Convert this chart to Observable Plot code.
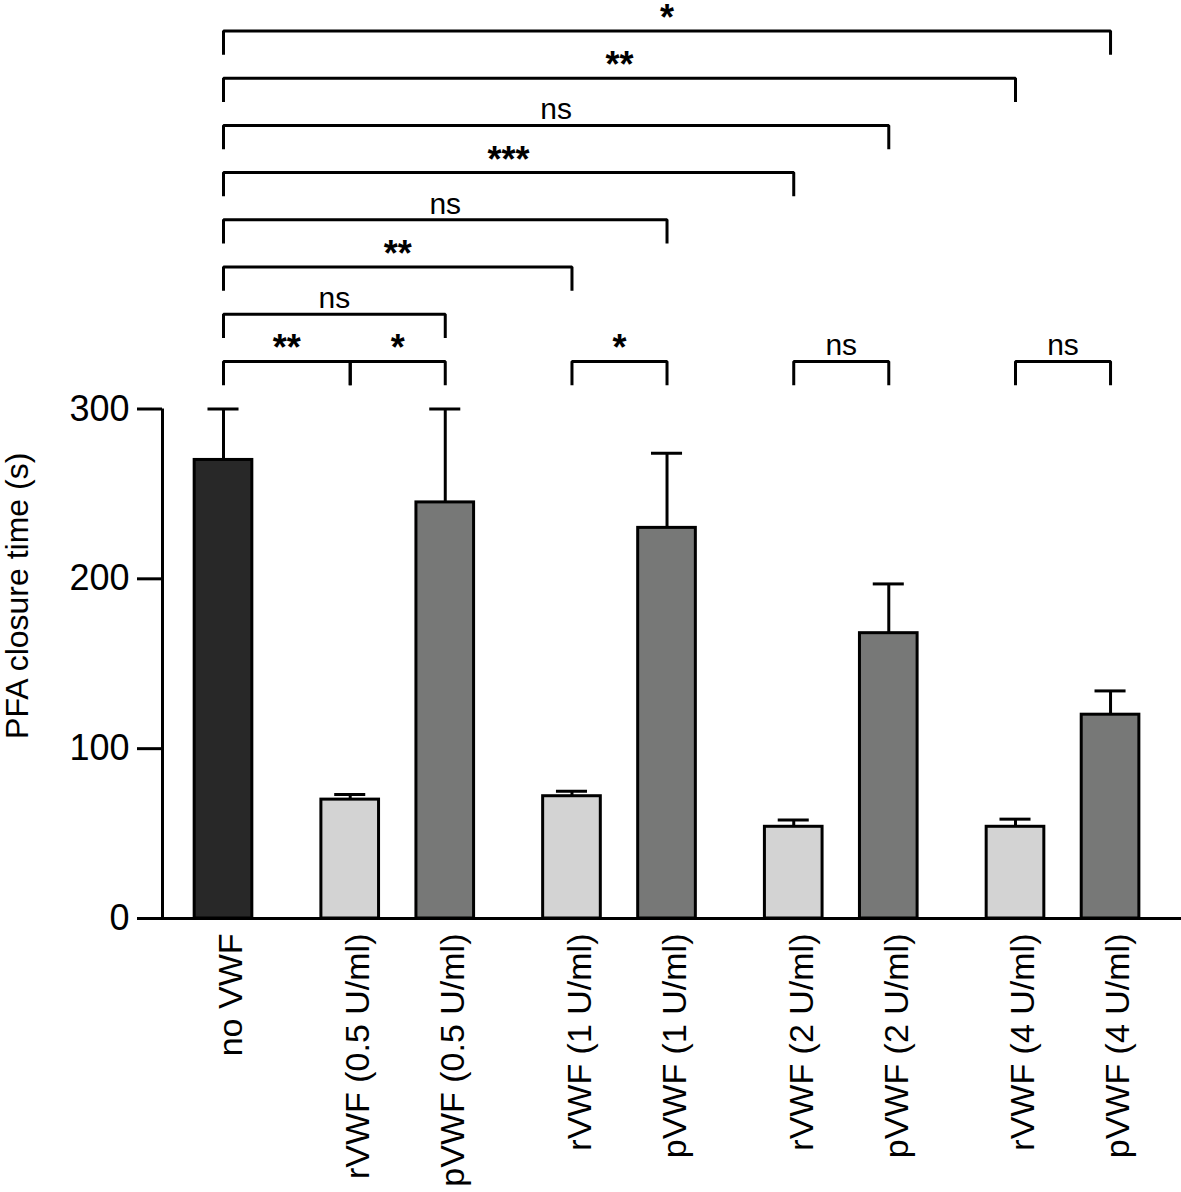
<!DOCTYPE html>
<html>
<head>
<meta charset="utf-8">
<script src="https://cdn.jsdelivr.net/npm/d3@7"></script>
<script src="https://cdn.jsdelivr.net/npm/@observablehq/plot@0.6"></script>
<style>
  html, body { margin: 0; padding: 0; background: #fff; }
  svg { display: block; font-family: "Liberation Sans", Arial, sans-serif; }
</style>
</head>
<body>
<div id="chart"></div>
<script>
// ---- data ----
const categories = ["no VWF", "rVWF (0.5 U/ml)", "pVWF (0.5 U/ml)", "rVWF (1 U/ml)", "pVWF (1 U/ml)",
                    "rVWF (2 U/ml)", "pVWF (2 U/ml)", "rVWF (4 U/ml)", "pVWF (4 U/ml)"];
const types = ["none", "r", "p", "r", "p", "r", "p", "r", "p"];
const means = [270, 70, 245, 72, 230, 54, 168, 54, 120];
const sems  = [30, 3, 55, 3, 44, 4, 29, 4.5, 14];
const yTicks = [0, 100, 200, 300];
const yLabel = "PFA closure time (s)";

// significance brackets: from, to, label, level
const brFrom  = ["no VWF", "rVWF (0.5 U/ml)", "rVWF (1 U/ml)", "rVWF (2 U/ml)", "rVWF (4 U/ml)",
                 "no VWF", "no VWF", "no VWF", "no VWF", "no VWF", "no VWF", "no VWF"];
const brTo    = ["rVWF (0.5 U/ml)", "pVWF (0.5 U/ml)", "pVWF (1 U/ml)", "pVWF (2 U/ml)", "pVWF (4 U/ml)",
                 "pVWF (0.5 U/ml)", "rVWF (1 U/ml)", "pVWF (1 U/ml)", "rVWF (2 U/ml)", "pVWF (2 U/ml)",
                 "rVWF (4 U/ml)", "pVWF (4 U/ml)"];
const brLabel = ["**", "*", "*", "ns", "ns", "ns", "**", "ns", "***", "ns", "**", "*"];
const brLevel = [0, 0, 0, 0, 0, 1, 2, 3, 4, 5, 6, 7];

// ---- layout (computed) ----
const pos = [];
let p = 0;
categories.forEach((c, i) => {
  if (i > 0) p += (types[i - 1] === "p" ? 4 : (types[i] === "p" ? 3 : 4));
  pos.push(p);
});
const posOf = Object.fromEntries(categories.map((c, i) => [c, pos[i]]));
const unit = 31.68;
const xDomain = [-(223 - 162) / unit, (1181 - 223) / unit];
const yTop = 918 / (509.5 / 300);
const halfBar = 0.91, halfCap = 0.49;
const levelY = l => 328 + 27.8 * l;
const drop = 14;

const bars = categories.map((c, i) => ({name: c, type: types[i], x: pos[i], mean: means[i], err: sems[i]}));
const fills = {none: "#282828", r: "#d3d3d3", p: "#777877"};

const bracketPts = [];
const bracketLabels = [];
brFrom.forEach((f, i) => {
  const x1 = posOf[f], x2 = posOf[brTo[i]], y = levelY(brLevel[i]);
  bracketPts.push({id: i, x: x1, y: y - drop}, {id: i, x: x1, y}, {id: i, x: x2, y}, {id: i, x: x2, y: y - drop});
  bracketLabels.push({x: (x1 + x2) / 2, y, text: brLabel[i], star: brLabel[i] !== "ns"});
});

const chart = Plot.plot({
  width: 1181,
  height: 1192,
  marginLeft: 162,
  marginRight: 0,
  marginTop: 0,
  marginBottom: 274,
  style: {fontFamily: "'Liberation Sans', Arial, sans-serif", color: "black", background: "white", overflow: "visible"},
  x: {type: "linear", domain: xDomain, axis: null},
  y: {domain: [0, yTop], axis: null},
  marks: [
    // error bars
    Plot.ruleX(bars, {x: "x", y1: "mean", y2: d => d.mean + d.err, stroke: "black", strokeWidth: 3}),
    Plot.ruleY(bars, {y: d => d.mean + d.err, x1: d => d.x - halfCap, x2: d => d.x + halfCap, stroke: "black", strokeWidth: 3}),
    // bars
    Plot.rectY(bars, {x1: d => d.x - halfBar, x2: d => d.x + halfBar, y1: 0, y2: "mean",
      fill: d => fills[d.type], stroke: "black", strokeWidth: 3}),
    // axes
    Plot.ruleX([xDomain[0]], {y1: 0, y2: 300, stroke: "black", strokeWidth: 3}),
    Plot.ruleY([0], {stroke: "black", strokeWidth: 3}),
    Plot.axisY({ticks: yTicks, tickSize: 25, tickPadding: 8, fontSize: 36, strokeWidth: 3, label: null, fill: "black"}),
    Plot.text([yLabel], {x: xDomain[0], y: 190, text: d => d, rotate: -90, dx: -145, fontSize: 32, fill: "black"}),
    // category labels
    Plot.text(bars, {x: "x", y: 0, text: "name", rotate: -90, textAnchor: "end", dy: 15, dx: 8, fontSize: 34, fill: "black"}),
    // brackets
    Plot.line(bracketPts, {x: "x", y: "y", z: "id", stroke: "black", strokeWidth: 3, strokeLinejoin: "miter", strokeLinecap: "butt"}),
    Plot.text(bracketLabels.filter(d => !d.star), {x: "x", y: "y", text: "text", lineAnchor: "bottom", dy: -6, fontSize: 30, fill: "black"}),
    Plot.text(bracketLabels.filter(d => d.star), {x: "x", y: "y", text: "text", lineAnchor: "bottom", dy: -1, fontSize: 36, fontWeight: "bold", fill: "black"})
  ]
});
document.getElementById("chart").appendChild(chart);
</script>
</body>
</html>
